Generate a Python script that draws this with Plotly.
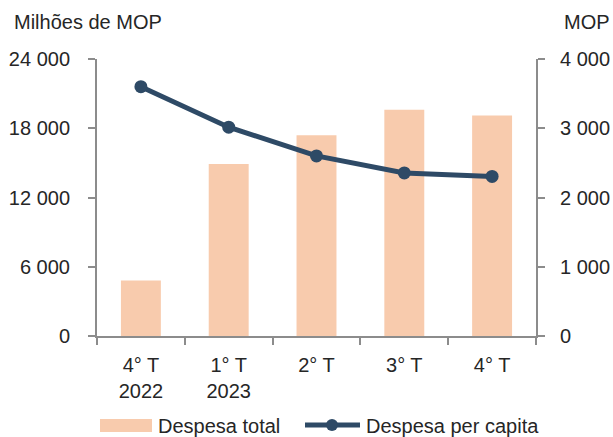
import plotly.graph_objects as go

# Quarterly data
quarters = ["4° T<br>2022", "1° T<br>2023", "2° T", "3° T", "4° T"]
despesa_total = [4800, 14900, 17400, 19600, 19100]        # Milhões de MOP (left axis)
despesa_per_capita = [3600, 3015, 2600, 2355, 2305]      # MOP (right axis)

BAR_COLOR = "#F8CBAD"
LINE_COLOR = "#2E4A66"
AXIS_COLOR = "#8C8C8C"
TEXT_COLOR = "#262626"
FONT = "Liberation Sans, Arial, sans-serif"
FS = 20

# plot area in pixels (used only to place the hand-drawn legend)
L, R, T, B = 97, 77, 59, 101
PW, PH = 613 - L - R, 437 - T - B


def px(x):
    return (x - L) / PW


def py(y):
    return (437 - B - y) / PH


fig = go.Figure()

fig.add_trace(go.Bar(
    x=quarters,
    y=despesa_total,
    name="Despesa total",
    marker=dict(color=BAR_COLOR, line=dict(width=0)),
    yaxis="y",
))

fig.add_trace(go.Scatter(
    x=quarters,
    y=despesa_per_capita,
    name="Despesa per capita",
    mode="lines+markers",
    line=dict(color=LINE_COLOR, width=5),
    marker=dict(color=LINE_COLOR, size=13),
    yaxis="y2",
))

axis_common = dict(
    showgrid=False,
    zeroline=False,
    showline=True,
    linecolor=AXIS_COLOR,
    linewidth=2,
    ticks="outside",
    ticklen=7,
    tickwidth=1.5,
    tickcolor=AXIS_COLOR,
    tickfont=dict(size=FS, color=TEXT_COLOR),
)

# legend drawn by hand so the swatches match the reference size
leg_y = py(426)
shapes = [
    dict(type="rect", xref="paper", yref="paper",
         x0=px(100), x1=px(152), y0=py(432), y1=py(419),
         fillcolor=BAR_COLOR, line=dict(width=0)),
    dict(type="line", xref="paper", yref="paper",
         x0=px(305), x1=px(360), y0=py(425), y1=py(425),
         line=dict(color=LINE_COLOR, width=5)),
    dict(type="circle", xref="paper", yref="paper",
         x0=px(326), x1=px(338), y0=py(431), y1=py(419),
         fillcolor=LINE_COLOR, line=dict(width=0)),
]

fig.update_layout(
    width=613,
    height=437,
    margin=dict(l=L, r=R, t=T, b=B, autoexpand=False),
    plot_bgcolor="white",
    paper_bgcolor="white",
    separators=", ",
    font=dict(family=FONT, size=FS, color=TEXT_COLOR),
    bargap=0.545,
    showlegend=False,
    xaxis=dict(
        **axis_common,
        tickson="boundaries",
        ticklabelstandoff=10,
    ),
    yaxis=dict(
        **axis_common,
        range=[0, 24000],
        dtick=6000,
        tickformat=",d",
        ticklabelstandoff=14,
    ),
    yaxis2=dict(
        **axis_common,
        overlaying="y",
        side="right",
        range=[0, 4000],
        dtick=1000,
        tickformat=",d",
        ticklabelstandoff=11,
    ),
    shapes=shapes,
    annotations=[
        dict(text="Milhões de MOP", xref="paper", yref="paper", x=px(12), y=py(22),
             xanchor="left", yanchor="middle", showarrow=False),
        dict(text="MOP", xref="paper", yref="paper", x=px(562), y=py(22),
             xanchor="left", yanchor="middle", showarrow=False),
        dict(text="Despesa total", xref="paper", yref="paper", x=px(156), y=leg_y,
             xanchor="left", yanchor="middle", showarrow=False),
        dict(text="Despesa per capita", xref="paper", yref="paper", x=px(364), y=leg_y,
             xanchor="left", yanchor="middle", showarrow=False),
    ],
)

# the page's default 8px body margin would push the figure off the window
fig.write_html("out.html", config={"displayModeBar": False},
               post_script="document.body.style.margin='0';")
